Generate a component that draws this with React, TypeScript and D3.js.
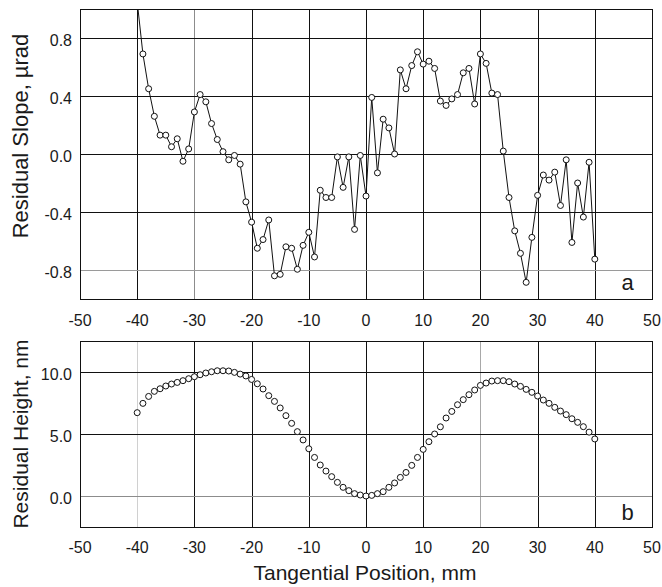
import React from "react";
import * as d3 from "d3";

const positions = [
  -40, -39, -38, -37, -36, -35, -34, -33, -32, -31,
  -30, -29, -28, -27, -26, -25, -24, -23, -22, -21,
  -20, -19, -18, -17, -16, -15, -14, -13, -12, -11,
  -10, -9, -8, -7, -6, -5, -4, -3, -2, -1,
  0, 1, 2, 3, 4, 5, 6, 7, 8, 9,
  10, 11, 12, 13, 14, 15, 16, 17, 18, 19,
  20, 21, 22, 23, 24, 25, 26, 27, 28, 29,
  30, 31, 32, 33, 34, 35, 36, 37, 38, 39,
  40,
];

const slopeValues = [
  1.05, 0.69, 0.45, 0.26, 0.13, 0.13, 0.05, 0.105, -0.05, 0.035,
  0.29, 0.41, 0.36, 0.21, 0.1, 0.016, -0.04, -0.01, -0.07, -0.33,
  -0.47, -0.65, -0.59, -0.455, -0.84, -0.83, -0.64, -0.65, -0.795, -0.63,
  -0.54, -0.71, -0.25, -0.3, -0.3, -0.02, -0.23, -0.02, -0.52, -0.01,
  -0.29, 0.39, -0.13, 0.24, 0.18, 0.0, 0.58, 0.45, 0.61, 0.705,
  0.62, 0.64, 0.59, 0.365, 0.335, 0.38, 0.41, 0.56, 0.59, 0.345,
  0.69, 0.625, 0.42, 0.41, 0.02, -0.3, -0.53, -0.685, -0.885, -0.575,
  -0.285, -0.145, -0.18, -0.125, -0.355, -0.04, -0.61, -0.2, -0.435, -0.057,
  -0.725,
];

const heightValues = [
  6.72, 7.47, 8.03, 8.44, 8.65, 8.87, 9.03, 9.16, 9.3, 9.46,
  9.62, 9.78, 9.92, 10.02, 10.1, 10.1, 10.08, 9.97, 9.83, 9.68,
  9.4, 9.05, 8.63, 8.09, 7.63, 7.1, 6.48, 5.86, 5.19, 4.52,
  3.81, 3.11, 2.5, 2.01, 1.56, 1.1, 0.7, 0.43, 0.19, 0.08,
  0.0, 0.05, 0.19, 0.35, 0.7, 1.05, 1.5, 1.9, 2.47, 3.11,
  3.76, 4.38, 5.0, 5.58, 6.29, 6.82, 7.36, 7.77, 8.17, 8.55,
  8.92, 9.11, 9.27, 9.3, 9.3, 9.22, 9.03, 8.84, 8.6, 8.36,
  8.06, 7.74, 7.47, 7.15, 6.85, 6.56, 6.23, 5.94, 5.59, 5.15,
  4.6,
];

const xTicks = [-50, -40, -30, -20, -10, 0, 10, 20, 30, 40, 50];
const xGrid = [-40, -30, -20, -10, 0, 10, 20, 30, 40];
const slopeTicks = [0.8, 0.4, 0.0, -0.4, -0.8];
const heightTicks = [10, 5, 0];

const topGridGray: Record<string, string> = { "x:-30": "#8c8c8c", "y:-0.8": "#9a9a9a" };
const botGridGray: Record<string, string> = { "x:-40": "#d0d0d0", "x:20": "#a8a8a8", "y:0": "#8c8c8c" };

const FONT = "'Liberation Sans', Arial, sans-serif";
const TXT = "#1a1a1a";

const X0 = 80;
const X1 = 652;

const px = (v: number) => Math.round(v) + 0.5;
const fmt1 = (v: number) => (Math.abs(v) < 1e-9 ? "0.0" : v.toFixed(1));

function Panel(props: {
  top: number;
  bottom: number;
  domain: [number, number];
  yTicks: number[];
  values: number[];
  drawLine: boolean;
  gray: Record<string, string>;
  letter: string;
  letterY: number;
  xLabelY: number;
  clipId: string;
}) {
  const { top, bottom, domain, yTicks, values, drawLine, gray, letter, letterY, xLabelY, clipId } = props;
  const x = d3.scaleLinear().domain([-50, 50]).range([X0, X1]);
  const y = d3.scaleLinear().domain(domain).range([bottom, top]);
  const data = positions.map((p, i) => [p, values[i]] as [number, number]);
  const line = d3
    .line<[number, number]>()
    .x((d) => x(d[0]))
    .y((d) => y(d[1]));
  return (
    <g>
      <defs>
        <clipPath id={clipId}>
          <rect x={X0} y={top} width={X1 - X0} height={bottom - top} />
        </clipPath>
      </defs>
      {xGrid.map((t) => (
        <line
          key={"gx" + t}
          x1={px(x(t))}
          x2={px(x(t))}
          y1={top}
          y2={bottom}
          stroke={gray["x:" + t] || "#111"}
          strokeWidth={1}
        />
      ))}
      {yTicks.map((t) => (
        <line
          key={"gy" + t}
          x1={X0}
          x2={X1}
          y1={px(y(t))}
          y2={px(y(t))}
          stroke={gray["y:" + t] || "#111"}
          strokeWidth={1}
        />
      ))}
      <rect
        x={px(X0)}
        y={px(top)}
        width={Math.round(X1) - Math.round(X0)}
        height={Math.round(bottom) - Math.round(top)}
        fill="none"
        stroke="#111"
        strokeWidth={1}
      />
      <g clipPath={`url(#${clipId})`}>
        {drawLine && <path d={line(data) || ""} fill="none" stroke="#111" strokeWidth={1} />}
        {data.map((d, i) => (
          <circle key={i} cx={x(d[0])} cy={y(d[1])} r={3} fill="#fff" stroke="#111" strokeWidth={1} />
        ))}
      </g>
      {xTicks.map((t) => (
        <text
          key={"xl" + t}
          x={x(t)}
          y={xLabelY}
          textAnchor="middle"
          fontFamily={FONT}
          fontSize={16}
          fill={TXT}
        >
          {String(t)}
        </text>
      ))}
      {yTicks.map((t) => (
        <text
          key={"yl" + t}
          x={72}
          y={y(t) + 8}
          textAnchor="end"
          fontFamily={FONT}
          fontSize={16}
          fill={TXT}
        >
          {fmt1(t)}
        </text>
      ))}
      <text x={627.5} y={letterY} textAnchor="middle" fontFamily={FONT} fontSize={22} fill={TXT}>
        {letter}
      </text>
    </g>
  );
}

export default function App() {
  return (
    <svg
      width={662}
      height={587}
      viewBox="0 0 662 587"
      style={{ position: "absolute", left: 0, top: 0, background: "#fff" }}
    >
      <rect x={0} y={0} width={662} height={587} fill="#fff" />
      <Panel
        top={9}
        bottom={299}
        domain={[-1, 1]}
        yTicks={slopeTicks}
        values={slopeValues}
        drawLine={true}
        gray={topGridGray}
        letter="a"
        letterY={290}
        xLabelY={326}
        clipId="clipTop"
      />
      <Panel
        top={341}
        bottom={527}
        domain={[-2.5, 12.5]}
        yTicks={heightTicks}
        values={heightValues}
        drawLine={false}
        gray={botGridGray}
        letter="b"
        letterY={520}
        xLabelY={553}
        clipId="clipBot"
      />
      <text
        transform="translate(28,136) rotate(-90)"
        textAnchor="middle"
        fontFamily={FONT}
        fontSize={22}
        fill={TXT}
      >
        Residual Slope, µrad
      </text>
      <text
        transform="translate(28,434) rotate(-90)"
        textAnchor="middle"
        fontFamily={FONT}
        fontSize={21}
        fill={TXT}
      >
        Residual Height, nm
      </text>
      <text x={365} y={580} textAnchor="middle" fontFamily={FONT} fontSize={21} fill={TXT}>
        Tangential Position, mm
      </text>
    </svg>
  );
}
